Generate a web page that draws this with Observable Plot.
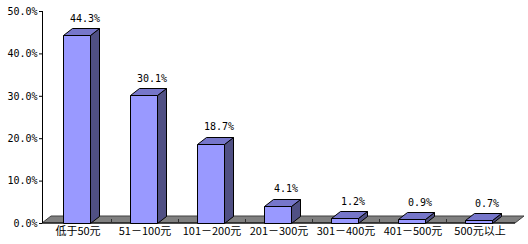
<!DOCTYPE html>
<html>
<head>
<meta charset="utf-8">
<script src="https://cdn.jsdelivr.net/npm/d3@7"></script>
<script src="https://cdn.jsdelivr.net/npm/@observablehq/plot@0.6"></script>
<style>
  html, body { margin: 0; padding: 0; background: #fff; }
  #chart svg { display: block; }
</style>
</head>
<body>
<div id="chart"></div>
<script>
const categories = ["低于50元", "51－100元", "101－200元", "201－300元", "301－400元", "401－500元", "500元以上"];
const values = [44.3, 30.1, 18.7, 4.1, 1.2, 0.9, 0.7];
const yTicks = [0, 10, 20, 30, 40, 50];

const data = categories.map((c, i) => ({cat: c, value: values[i]}));

const DX = 9, DY = -7;
const monoFont = "'DejaVu Sans Mono', 'Liberation Mono', monospace";
const cjkFont = "'Noto Sans CJK SC', 'DejaVu Sans', sans-serif";

function floorRender(index, scales, values, dims) {
  const g = d3.create("svg:g");
  const x0 = dims.marginLeft, x1 = dims.width - dims.marginRight;
  const yb = scales.y(0), yt = scales.y(yTicks[yTicks.length - 1]);
  g.append("path")
    .attr("d", `M${x0},${yb}L${x1},${yb}L${x1 + DX},${yb + DY}L${x0 + DX},${yb + DY}Z`)
    .attr("fill", "#808080").attr("stroke", "#404040").attr("stroke-width", 1);
  g.append("line").attr("x1", x0).attr("x2", x1).attr("y1", yb).attr("y2", yb)
    .attr("stroke", "#000");
  for (let i = 1; i < categories.length; i++) {
    const xx = Math.round(scales.x(categories[i])) + 0.5;
    g.append("line").attr("x1", xx).attr("x2", xx).attr("y1", yb - 4).attr("y2", yb)
      .attr("stroke", "#303030");
  }
  g.append("line").attr("x1", x0 + 0.5).attr("x2", x0 + 0.5).attr("y1", yt).attr("y2", yb)
    .attr("stroke", "#000");
  return g.node();
}

function barRender(index, scales, vals, dims) {
  const g = d3.create("svg:g").attr("stroke", "#000").attr("stroke-width", 1).attr("stroke-linejoin", "round");
  const bw = scales.x.bandwidth();
  const w = bw * 0.39;
  for (const i of index) {
    const d = data[i];
    const xc = scales.x(d.cat) + bw / 2 - 1;
    const xl = Math.round(xc - w / 2) + 0.5, xr = Math.round(xc + w / 2) + 0.5;
    const yt = Math.round(scales.y(d.value)) + 0.5, yb = Math.round(scales.y(0)) + 0.5;
    g.append("path")
      .attr("d", `M${xr},${yb}L${xr},${yt}L${xr + DX},${yt + DY}L${xr + DX},${yb + DY}Z`)
      .attr("fill", "#505084");
    g.append("path")
      .attr("d", `M${xl},${yt}L${xr},${yt}L${xr + DX},${yt + DY}L${xl + DX},${yt + DY}Z`)
      .attr("fill", "#7676CA");
    g.append("rect").attr("x", xl).attr("y", yt).attr("width", xr - xl).attr("height", yb - yt)
      .attr("fill", "#9999FF");
  }
  return g.node();
}

const chart = Plot.plot({
  width: 528,
  height: 244,
  marginLeft: 42,
  marginRight: 13,
  marginTop: 11,
  marginBottom: 21,
  x: {type: "band", domain: categories, padding: 0},
  y: {domain: [0, 50]},
  marks: [
    Plot.ruleY([0], {render: floorRender}),
    Plot.barY(data, {x: "cat", y: "value", render: barRender}),
    Plot.text(data, {
      x: "cat", y: "value", text: d => d.value.toFixed(1) + "%",
      dx: 7, dy: -17, fontFamily: monoFont, fontSize: 10, fill: "#000"
    }),
    Plot.axisY({
      ticks: yTicks, tickFormat: d => d.toFixed(1) + "%", tickSize: 3, tickPadding: 2,
      fontFamily: monoFont, fontSize: 10, label: null
    }),
    Plot.axisX({
      tickSize: 0, tickPadding: 4, fontFamily: cjkFont, fontSize: 11, label: null
    })
  ]
});
document.getElementById("chart").appendChild(chart);
</script>
</body>
</html>
